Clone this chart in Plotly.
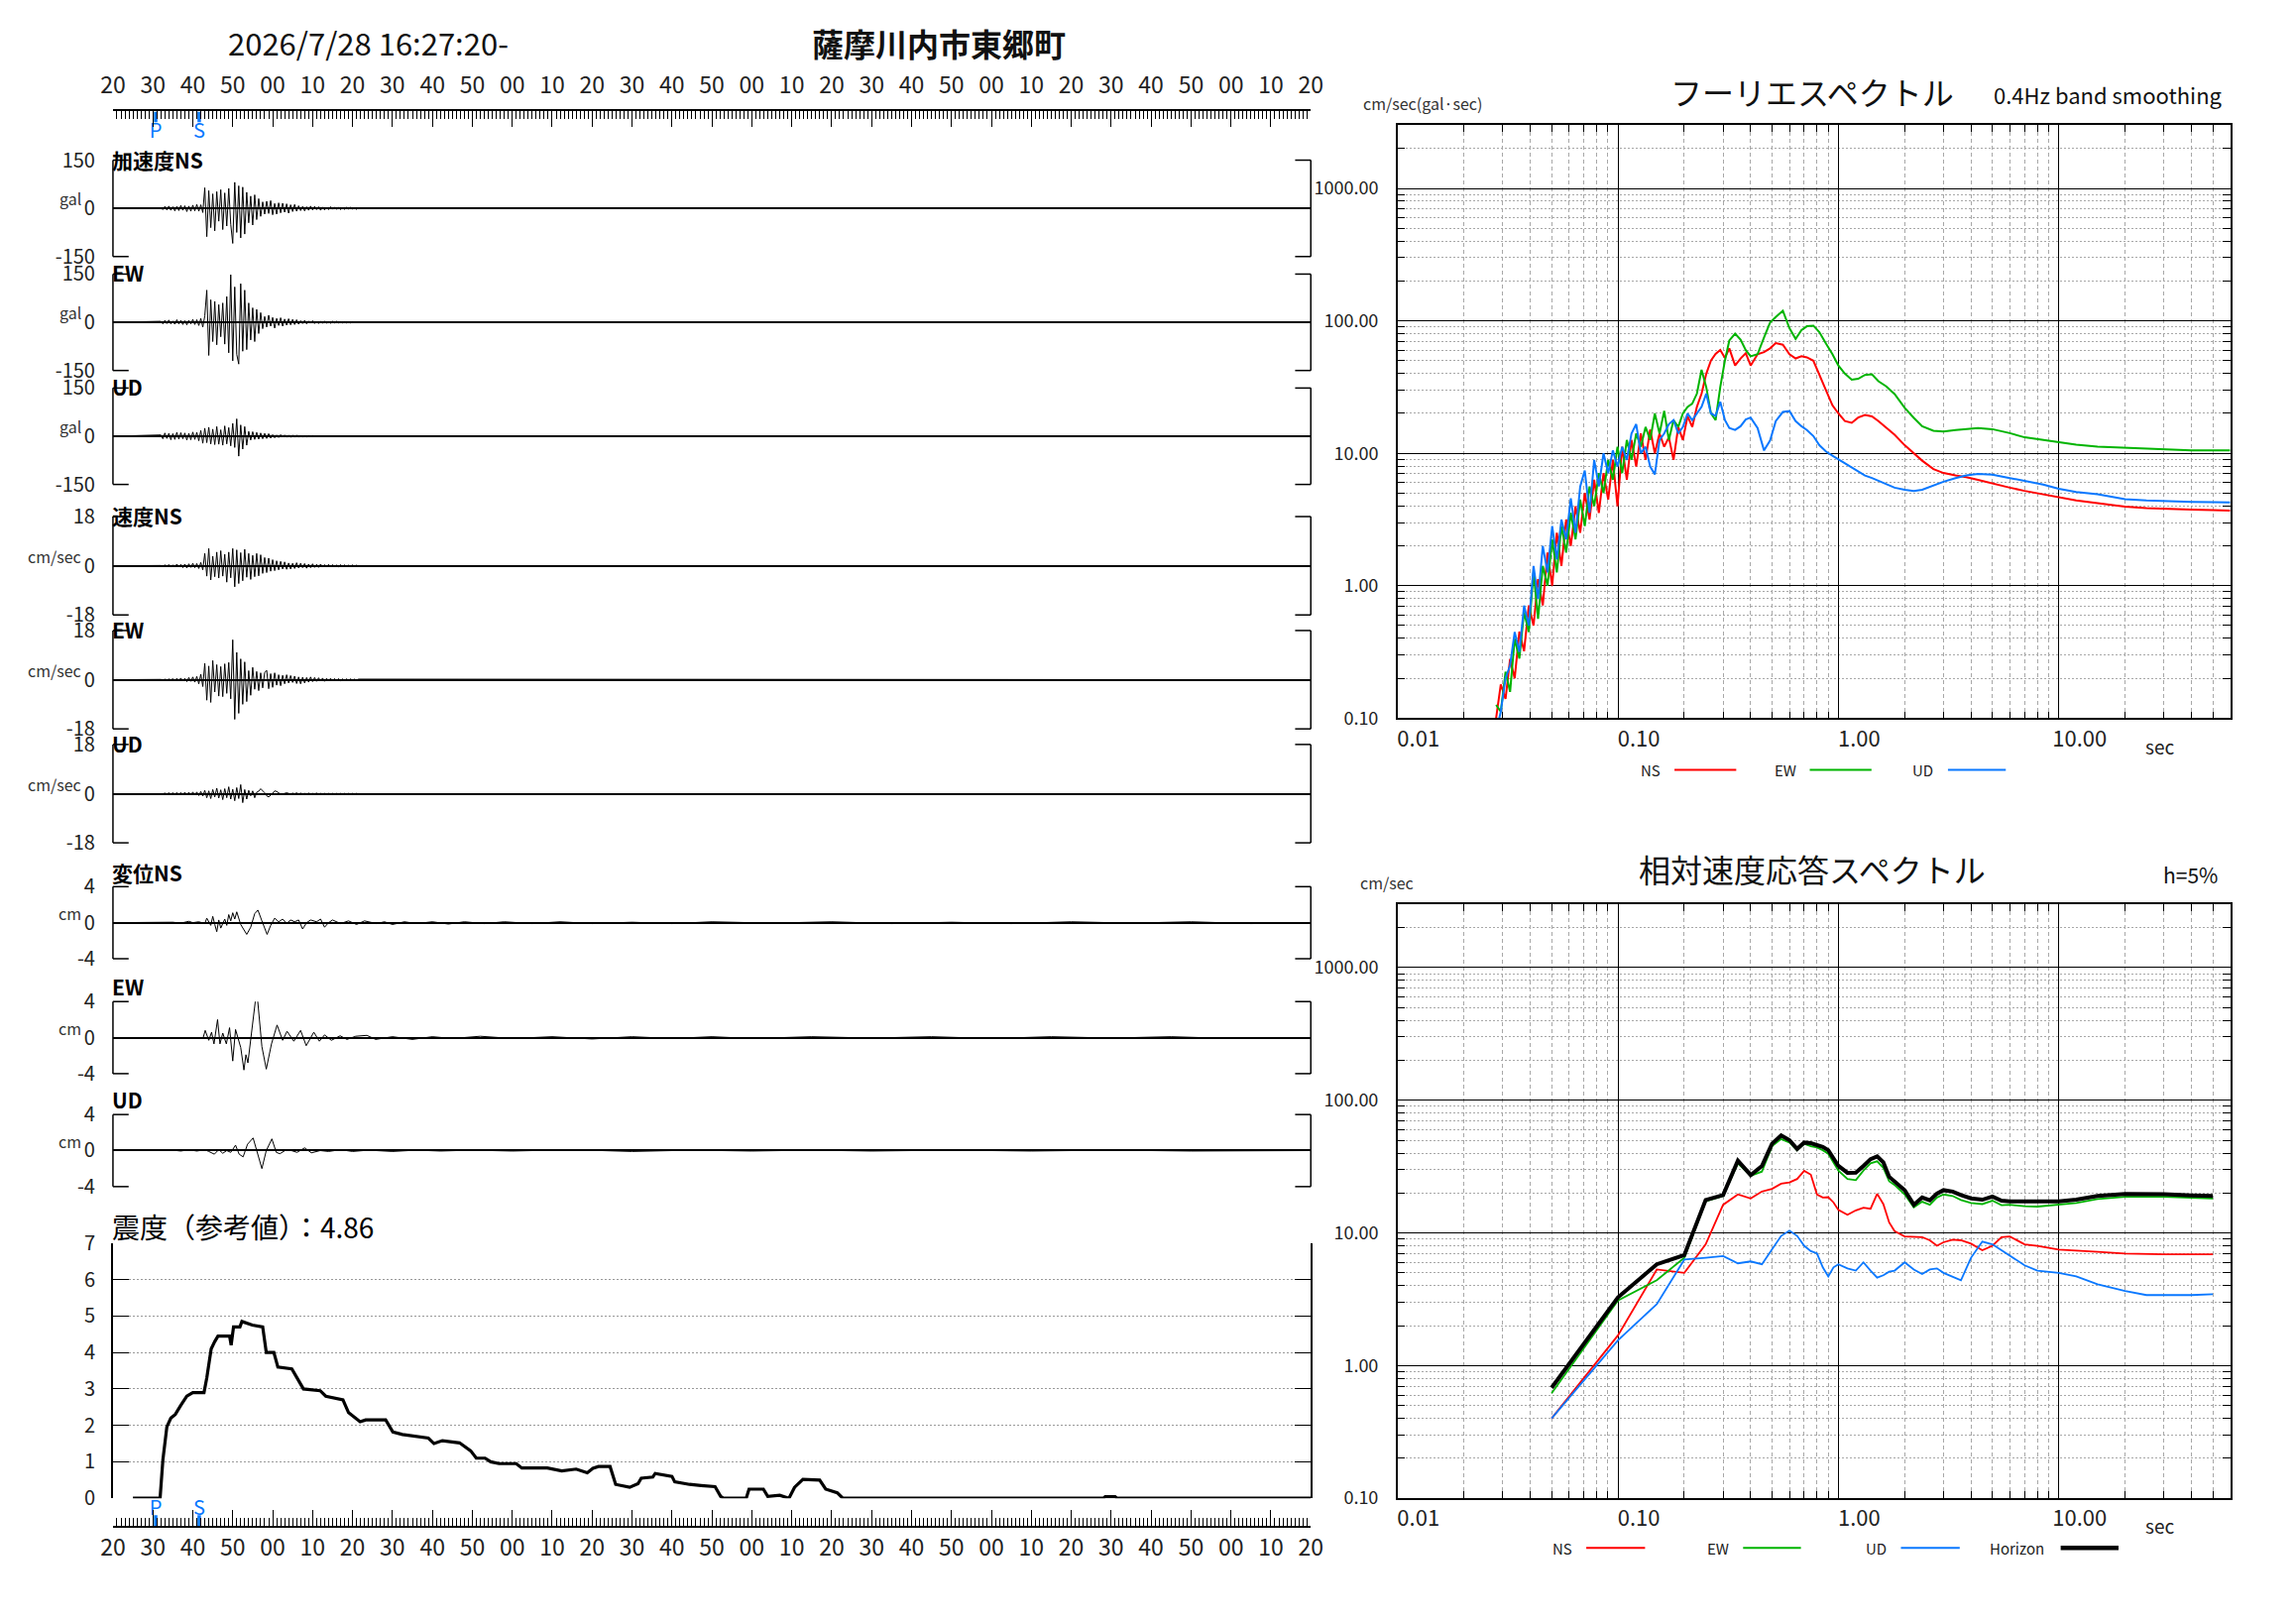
import math
import plotly.graph_objects as go

W, H = 2316, 1637
FONT = "Noto Sans CJK JP, Noto Sans, DejaVu Sans, sans-serif"

# ---------------- data ----------------
title_time = "2026/7/28 16:27:20-"
station = "薩摩川内市東郷町"
time_labels = ["20", "30", "40", "50", "00", "10", "20", "30", "40", "50", "00", "10",
               "20", "30", "40", "50", "00", "10", "20", "30", "40", "50", "00", "10",
               "20", "30", "40", "50", "00", "10", "20"]
phase_names = ["P", "S"]
phase_times = [10.7, 21.6]

WAVE_T0 = 12.0
WAVE_DT = 0.5
acc_ns = [2, -4, 6, -5, 7, -6, 5, -8, 6, -7, 9, -6, 8, -10, 7, -9, 10, -8, 12, -9, 11, -13,
          64, -88, 55,
          -60, 45, -70, 52, -40, 58, -66, 48, -55, 62, -50,
          -109, 81, -75, 70, -92, 66, -80,
          50, -45, 38, -52, 42, -35, 30,
          -25, 20, -18, 22, -16, 24, -20, 15, -18, 17, -14, 16, -12, 14, -15, 11, -10, 12, -9,
          8, -7, 6, -8, 5, -6, 7, -5, 6, -4, 5, -6, 4, -5, 3, -4, 5, -3, 4, -3, 3, -4, 2, -3, 3, -2,
          3, -2, 2, -3, 2]
acc_ew = [3, -5, 6, -4, 7, -5, 4, -6, 8, -5, 6, -7, 5, -8, 6, -5, 9, -7, 8, -10,
          12, -15, 20,
          100, -103, 70,
          -60, 65, -70, 55, -45, 60, -68,
          80, -95, 148, -120, 110, -100, -130, 120, -90, 100, -85,
          60, -55, 45, -60, 40, -35, 30,
          -20, 18, -15, 22, -12, 15, -18, 12, -10, 14, -12, 10, -9, 11, -8, 9, -7, 8,
          -6, 5, -4, 6, -5, 4, -3, 5, -4, 3, -4, 3, -3, 4, -3, 2, -3, 3, -2, 3, -2, 2, -2, 2, -2,
          1, -2, 2, -1, 1, -1]
acc_ud = [4, -8, 10, -7, 9, -11, 8, -10, 12, -9, 11, -8, 10, -12, 9, -11, 13, -10, 12, -14,
          18, -22, 25, -20, 28, -24, 22, -26, 30, -25, 20, -28, 32, -24, 27, -30, 40, -35, 54, -62,
          35, -40, 30, -28,
          15, -12, 14, -10, 12, -9, 10, -8, 9, -7, 8, -6,
          5, -5, 4, -4, 5, -3, 4, -3, 3, -3, 3, -2, 3, -2, 2, -2, 2, -2, 2, -1, 2, -1, 1, -1, 1, -1,
          1, -1, 1, -1, 1, -1, 1, -1, 1, -1, 1, -1, 1, -1, 1, -1, 1, -1]
vel_ns = [0.1, -0.2, 0.3, -0.2, 0.4, -0.3, 0.3, -0.5, 0.6, -0.4, 0.5, -0.7, 0.6, -0.8, 0.7, -0.6,
          0.9, -0.7, 0.8, -1.0, 1.2, -1.5,
          4.5, -3.8, 6.3, -5.2, 3.5, -4.0, 5.0,
          -4.5, 5.5, -3.8, 4.2, -6.0, 5.0, -4.4, 6.3, -7.7, 5.8, -6.5, 4.8, -5.5, 6.0, -4.2, 4.5,
          -5.0, 3.8, -4.0, 4.5,
          -3.7, 4.0, -2.8, 3.0, -2.5, 2.8, -2.0, 2.2, -1.8,
          1.8, -1.5, 1.6, -1.2, 1.4, -1.3, 1.0, -1.2, 0.9, -1.0, 1.1, -0.8, 0.9, -0.7, 0.8, -0.9,
          0.6, -0.7, 0.7, -0.6, 0.5, -0.6, 0.6, -0.5, 0.4, -0.5,
          0.5, -0.4, 0.4, -0.5, 0.3, -0.4, 0.4, -0.3, 0.3, -0.3, 0.2, -0.3, 0.3, -0.2, 0.2, -0.2]
vel_ew = [0.1, -0.2, 0.2, -0.3, 0.3, -0.2, 0.4, -0.4, 0.5, -0.3, 0.6, -0.5, 0.5, -0.7, 0.8, -0.6,
          1.0, -0.9, 1.2, -1.5, 2.0, -2.5,
          6.0, -7.5, 5.0, -8.3, 7.0, -4.5, 5.5, -6.0, 4.8,
          -6.2, 5.8, -5.0, 6.3, -7.0,
          14.6, -14.5, 10.0, -12.3, 7.6, -9.0, 6.5, -8.0,
          3.3, -5.7, 4.5, -3.5, 3.0, -4.0, 2.5, -3.0, 2.6,
          3.4, -3.3, 2.2, -2.8, 2.5, -2.0, 1.8, -2.2, 1.6,
          -1.5, 1.8, -1.2, 1.5, -1.0, 1.3, -1.4, 1.0, -1.5, 0.9, -1.2, 0.8, -0.9, 1.0,
          -0.7, 0.8, -0.6, 0.7, -0.5, 0.6, -0.6, 0.5, -0.4, 0.5, -0.5, 0.4, -0.3, 0.4, -0.4, 0.3,
          -0.3, 0.3, -0.2, 0.3, -0.2, 0.2, -0.2, 0.2]
vel_ud = [0.1, -0.1, 0.2, -0.2, 0.3, -0.2, 0.3, -0.3, 0.4, -0.3, 0.4, -0.4, 0.5, -0.4, 0.5, -0.5,
          0.6, -0.5, 0.6, -0.7, 0.8, -0.9,
          1.2, -1.5, 1.0, -1.8, 1.5, -1.2, 2.0, -1.6, 1.4, -2.2, 1.8, -1.5, 2.5, -2.0, 1.6, -2.6,
          2.2, -1.8,
          3.3, -3.3, 1.5, -2.0, 1.2, -0.8, 1.0, -1.5, 0.5, 0.9, 1.8, 1.2,
          0.3, -0.8, -1.2, -0.6, 0.2, 1.0, 0.8, 0.3, -0.2, -0.1, 0.2, 0.3,
          0.1, -0.2, 0.2, -0.1, 0.3, -0.2, 0.2, -0.2, 0.1, -0.2, 0.2, -0.1, 0.1, -0.1, 0.2, -0.1,
          0.1, -0.1, 0.1, -0.1, 0.1, -0.1, 0.1, -0.1, 0.1, -0.1, 0.1, -0.1, 0.1, -0.1, 0.1, -0.1,
          0.1, -0.1, 0.1, -0.1]

disp_ns_t = [0, 12, 15, 17, 19, 20, 21.5, 23, 23.5, 24.5, 25, 25.5, 26, 26.5, 27, 28, 28.5, 29,
             29.5, 30, 30.5, 31, 32, 33.5, 34.5, 35.5, 36.3, 37.3, 38.6, 39.5, 40.5, 41.5, 42.5,
             43.5, 44.5, 45.5, 46.5, 47.5, 48.5, 49.5, 51, 52, 53, 54, 55, 57, 59, 61, 63, 66, 68,
             70, 73, 76, 80, 84, 88, 93, 98, 105, 112, 120, 130, 140, 150, 165, 180, 195, 210,
             225, 240, 255, 270, 285, 300]
disp_ns_v = [0, 0, 0.05, -0.05, 0.15, 0.0, 0.1, -0.1, 0.5, -0.3, 0.7, -0.2, -1.0, 0.3, -0.6, 0.4,
             -0.3, 0.9, 0.2, 1.1, 0.4, 1.2, -0.2, -1.3, -0.5, 1.0, 1.4, 0.2, -1.3, -0.3, 0.5, 0.1,
             0.4, -0.1, 0.3, 0.1, 0.3, -0.7, 0.0, 0.3, 0.1, 0.4, -0.5, 0.0, 0.3, -0.1, 0.2, -0.2,
             0.2, -0.1, 0.1, -0.2, 0.1, -0.1, 0.1, -0.15, 0.1, -0.1, 0.1, -0.1, 0.1, -0.1, 0.05,
             -0.1, 0.1, -0.05, 0.1, -0.1, 0.05, -0.1, 0.1, -0.05, 0.1, -0.1, 0.0]
disp_ew_t = [0, 22.6, 23.1, 24.0, 24.7, 25.3, 26.2, 26.8, 27.5, 28.4, 29.2, 30.0, 30.7, 32.0, 32.8,
             33.3, 33.8, 34.8, 36.0, 37.3, 38.4, 39.7, 41.1, 42.5, 43.6, 45.3, 47.0, 48.4, 50.3,
             51.7, 53.0, 54.7, 56.9, 58.6, 60.8, 63.6, 65.8, 70, 75, 80, 85, 92, 100, 110, 120,
             130, 140, 150, 160, 175, 190, 205, 220, 235, 250, 265, 280, 300]
disp_ew_v = [0, 0, 0.8, -0.3, 0.6, -0.7, 2.0, -0.7, 0.5, -0.7, 1.1, -2.6, 0.9, -1.1, -3.6, -1.9,
             -2.8, 1.2, 5.3, -1.0, -3.5, -0.7, 1.4, -0.3, 0.7, -0.4, 0.8, -0.9, 0.6, -0.4, 0.3,
             -0.3, 0.2, -0.2, 0.15, 0.25, -0.2, 0.1, -0.2, 0.1, -0.1, 0.15, -0.1, 0.1, -0.15, 0.1,
             -0.1, 0.1, -0.1, 0.1, -0.05, 0.1, -0.1, 0.1, -0.05, 0.1, -0.1, 0]
disp_ud_t = [0, 15, 17, 19, 21, 23, 24, 25.4, 26.5, 27.5, 28.5, 29.5, 30.7, 31.6, 32.6, 33.7, 35.1,
             36.2, 37.3, 38.4, 39.8, 40.9, 41.8, 43.1, 44.7, 46.1, 48.0, 49.7, 51.9, 54, 57, 60,
             64, 70, 76, 82, 90, 100, 115, 130, 145, 160, 175, 190, 210, 230, 250, 270, 300]
disp_ud_v = [0, 0.05, -0.05, 0.1, -0.05, 0.1, -0.1, -0.4, 0.1, -0.3, 0.0, -0.2, 0.6, -0.4, -0.7,
             0.7, 1.4, -0.2, -2.0, 0.0, 1.3, -0.2, -0.35, 0.0, 0.0, -0.2, 0.3, -0.25, 0.0, -0.1,
             0.1, -0.1, 0.05, -0.1, 0.05, -0.05, 0.05, -0.05, 0.1, -0.1, 0.05, -0.05, 0.05, -0.05,
             0.05, -0.05, 0.05, -0.05, 0]

intensity_label = "震度（参考値）：4.86"
int_t = [5, 11.8, 12.5, 13.5, 14.5, 15.6, 17, 18.5, 20, 22.8, 23.5, 24.6, 25.5, 26.3, 29.2, 29.6,
         30.2, 31.8, 32.3, 34.9, 37.5, 38.4, 40.3, 41.3, 44.8, 47.7, 51.9, 53.3, 57.6, 59.0, 61.9,
         63.3, 68.3, 70.1, 72.5, 79.0, 80.4, 82.5, 86.8, 89.6, 91.0, 93.2, 94.6, 96.7, 101.0,
         102.4, 108.8, 112.4, 116.0, 118.8, 120.2, 121.6, 124.5, 125.9, 129.4, 131.5, 132.3,
         135.2, 135.8, 140.0, 140.7, 144.4, 147.3, 150.8, 152.2, 152.9, 158.6, 159.3, 162.9,
         164.0, 167.0, 169.3, 170.7, 172.8, 177.0, 178.5, 181.4, 182.8, 248, 248.5, 251, 251.5, 300]
int_v = [0, 0, 1.05, 1.96, 2.2, 2.3, 2.55, 2.8, 2.9, 2.9, 3.3, 4.1, 4.3, 4.45, 4.45, 4.2, 4.7, 4.7,
         4.85, 4.75, 4.7, 4.0, 4.0, 3.6, 3.55, 3.0, 2.95, 2.8, 2.7, 2.35, 2.1, 2.15, 2.15, 1.82,
         1.75, 1.65, 1.5, 1.58, 1.52, 1.3, 1.1, 1.1, 1.0, 0.95, 0.95, 0.83, 0.83, 0.75, 0.8, 0.7,
         0.82, 0.87, 0.87, 0.38, 0.3, 0.4, 0.55, 0.58, 0.68, 0.6, 0.45, 0.38, 0.35, 0.32, 0.05,
         0.0, 0.0, 0.25, 0.25, 0.05, 0.08, 0.0, 0.3, 0.52, 0.5, 0.25, 0.15, 0.0, 0.0, 0.04, 0.04,
         0.0, 0.0]

# Fourier spectrum (period in s, amplitude cm/sec)
fs_period = [0.028, 0.0294, 0.0309, 0.0324, 0.034, 0.0357, 0.0375, 0.0394, 0.0414, 0.0434,
             0.0456, 0.0479, 0.0503, 0.0528, 0.0554, 0.0582, 0.0611, 0.0642, 0.0674, 0.0707,
             0.0743, 0.078, 0.0819, 0.086, 0.0903, 0.0948, 0.0995, 0.1045, 0.1097, 0.1152,
             0.121, 0.127, 0.1334, 0.14, 0.147, 0.1544, 0.1621, 0.1702, 0.1787, 0.1877,
             0.1971, 0.2069, 0.2173, 0.2281, 0.2395, 0.2515, 0.2641, 0.2773, 0.2912, 0.3057,
             0.32, 0.34, 0.36, 0.38, 0.40, 0.43, 0.46, 0.49, 0.52, 0.56,
             0.60, 0.64, 0.68, 0.72, 0.77, 0.82, 0.88, 0.94, 1.0, 1.07,
             1.15, 1.23, 1.32, 1.42, 1.52, 1.65, 1.8, 2.0, 2.2, 2.4,
             2.7, 3.0, 3.4, 3.8, 4.3, 5.0, 6.0, 7.0, 8.5, 10,
             12, 15, 20, 25, 30, 40, 50, 60]
fs_ns = [0.10, 0.18, 0.14, 0.28, 0.20, 0.45, 0.32, 0.71, 0.50, 1.12, 0.71, 1.78, 1.0, 2.51, 1.41,
         3.16, 2.0, 3.98, 2.51, 5.01, 3.16, 6.31, 3.55, 7.08, 4.47, 8.91, 3.98, 11.2, 6.31, 12.6,
         7.94, 14.1, 8.91, 15.1, 10.0, 14.1, 11.2, 13.2, 8.91, 15.8, 12.6, 19.1, 15.8, 22.4, 28.2,
         39.8, 50.1, 56.2, 60.3, 52.5,
         62, 46, 52, 57, 46, 56, 58, 62, 68, 66, 56, 52, 54, 53, 50, 39, 29, 23, 20, 17.5,
         17, 18.6, 19.5, 19, 17.5, 15.5, 13.8, 11.5, 10.0, 8.8, 7.6, 7.1, 6.8, 6.6, 6.3, 5.9, 5.5,
         5.2, 4.9, 4.68, 4.4, 4.2, 3.95, 3.85, 3.8, 3.75, 3.72, 3.7]
fs_ew = [0.126, 0.112, 0.224, 0.158, 0.398, 0.282, 0.631, 0.447, 1.26, 0.562, 1.41, 1.0, 2.24,
         1.26, 2.82, 1.78, 3.55, 2.24, 4.47, 2.82, 5.62, 3.98, 7.08, 5.01, 8.91, 6.31, 11.2, 7.08,
         12.6, 8.91, 14.1, 11.2, 15.8, 12.6, 20.0, 14.1, 20.9, 12.6, 17.8, 15.8, 20.0, 22.4, 23.7,
         28.2, 42.7, 31.6, 20.0, 17.8, 31.6, 50.1,
         71, 80, 72, 60, 54, 56, 75, 97, 107, 119, 88, 73, 85, 91, 92, 82, 67, 56, 46, 40,
         36, 36.5, 39, 39.5, 35, 32, 28, 22, 18.5, 16, 14.8, 14.6, 15, 15.3, 15.5, 15.2, 14.2,
         13.2, 12.6, 12.1, 11.6, 11.2, 11.0, 10.8, 10.6, 10.5, 10.5, 10.5]
fs_ud = [0.079, 0.112, 0.2, 0.251, 0.447, 0.316, 0.708, 0.501, 1.41, 0.794, 2.0, 1.26, 2.82,
         1.58, 3.16, 2.24, 4.57, 2.51, 5.62, 7.41, 3.55, 8.91, 5.62, 10.0, 7.08, 10.5, 7.94, 11.2,
         8.91, 14.1, 16.6, 10.0, 11.2, 7.94, 6.92, 12.6, 14.1, 16.6, 17.8, 14.1, 15.8, 20.0, 17.8,
         20.0, 22.4, 28.2, 20.0, 19.1, 24.5, 17.8,
         15.5, 15.0, 16.0, 18.0, 18.6, 15.5, 10.5, 12.5, 17.5, 20.5, 20.8, 17.5, 16.0, 15.0, 13.5,
         11.5, 10.3, 9.6, 9.0, 8.5, 7.8, 7.3, 6.8, 6.5, 6.2, 5.8, 5.5, 5.3, 5.2, 5.3, 5.7, 6.1,
         6.5, 6.8, 7.0, 6.9, 6.5, 6.2, 5.8, 5.4, 5.1, 4.9, 4.5, 4.4, 4.35, 4.3, 4.27, 4.25]

# relative velocity response spectrum (h=5%)
rs_period = [0.05, 0.1, 0.15, 0.2, 0.25, 0.3, 0.35, 0.4, 0.45, 0.5, 0.55, 0.6, 0.65, 0.7, 0.75,
             0.8, 0.85, 0.9, 0.95, 1.0, 1.1, 1.2, 1.3, 1.4, 1.5, 1.6, 1.7, 1.8, 2.0, 2.2, 2.4, 2.6,
             2.8, 3.0, 3.3, 3.6, 4.0, 4.5, 5.0, 5.5, 6.0, 7.0, 8.0, 10, 12, 15, 20, 25, 30, 40, 50]
rs_ns = [0.40, 1.69, 5.3, 5.0, 8.2, 16.3, 19.5, 18.2, 20.5, 21.5, 23.5, 24.0, 25.5, 29.4, 27.5,
         19.5, 18.5, 18.6, 17.0, 14.9, 13.7, 14.8, 15.5, 15.2, 19.7, 16.5, 12.0, 10.3, 9.4, 9.3,
         9.3, 8.8, 8.0, 8.5, 8.9, 8.8, 8.3, 7.4, 8.0, 9.3, 9.4, 8.2, 8.0, 7.5, 7.4, 7.2, 7.0, 6.9,
         6.9, 6.9, 6.9]
rs_ew = [0.62, 3.1, 4.4, 6.5, 17.3, 19.0, 33.5, 27, 29, 45, 51, 48, 42, 47, 45, 44, 42, 39.5, 34,
         29.5, 25.5, 25, 29.5, 33.5, 34.7, 31, 24.5, 23, 19.5, 15.6, 17.2, 16.3, 18.5, 19.5, 19.0,
         17.7, 16.8, 16.5, 17.5, 16.2, 16.3, 15.9, 15.8, 16.3, 16.8, 18.0, 18.7, 18.7, 18.7, 18.4,
         18.2]
rs_ud = [0.40, 1.55, 2.9, 6.3, 6.5, 6.7, 5.9, 6.1, 5.8, 7.6, 9.5, 10.4, 9.5, 8.0, 7.3, 7.0, 5.5,
         4.7, 5.5, 5.8, 5.4, 5.2, 6.0, 5.2, 4.6, 4.8, 5.1, 5.2, 6.0, 5.3, 4.9, 5.3, 5.4, 5.0, 4.7,
         4.4, 6.5, 8.6, 8.2, 7.4, 6.7, 5.7, 5.2, 5.0, 4.7, 4.1, 3.65, 3.4, 3.4, 3.4, 3.45]
rs_hz = [0.68, 3.27, 5.8, 6.8, 17.7, 19.3, 35, 27.3, 32, 47, 54.3, 50, 43, 48, 47.5, 46, 44.5, 42,
         37, 32, 28.4, 28.5, 32, 36, 37.8, 34, 26.5, 24.5, 21, 16.3, 18.5, 17.6, 19.8, 21.0, 20.5,
         19.3, 18.2, 17.8, 18.8, 17.5, 17.3, 17.3, 17.2, 17.3, 17.8, 19.0, 19.7, 19.7, 19.6, 19.2,
         19.0]

component_names = ["NS", "EW", "UD", "Horizon"]
component_colors = ["#ff0000", "#00b400", "#0a78ff", "#000000"]
log_major_x = [0.01, 0.1, 1, 10]
log_major_x_text = ["0.01", "0.10", "1.00", "10.00"]
log_major_y = [0.1, 1, 10, 100, 1000]
log_major_y_text = ["0.10", "1.00", "10.00", "100.00", "1000.00"]

# ---------------- layout helpers ----------------
def xd(a, b):
    return [a / W, b / W]


def yd(top, bot):
    return [1 - bot / H, 1 - top / H]


def nm(k):
    return "" if k == 1 else str(k)


fig = go.Figure()
layout = dict(width=W, height=H, margin=dict(l=0, r=0, t=0, b=0), paper_bgcolor="white",
              plot_bgcolor="rgba(0,0,0,0)", showlegend=False,
              font=dict(family=FONT, color="#222"))
shapes = []
annotations = []


def ann(text, x, y, size, xanchor="center", color="#111", weight="normal"):
    annotations.append(dict(text=text, x=x / W, y=1 - y / H, xref="paper", yref="paper",
                            showarrow=False, xanchor=xanchor, yanchor="middle",
                            font=dict(size=size, color=color, family=FONT, weight=weight)))


LEFT, RIGHT = 94, 1316
STUB = 16 / (RIGHT - LEFT)
GRID_DOT = "2px,2px"

panels = [
    # (name, unit, amp, top, bottom, values, times)
    ("加速度NS", "gal", 150, 140, 239, acc_ns, None),
    ("EW", "gal", 150, 257, 356, acc_ew, None),
    ("UD", "gal", 150, 374, 473, acc_ud, None),
    ("速度NS", "cm/sec", 18, 506, 607, vel_ns, None),
    ("EW", "cm/sec", 18, 623, 724, vel_ew, None),
    ("UD", "cm/sec", 18, 740, 841, vel_ud, None),
    ("変位NS", "cm", 4, 886, 960, disp_ns_v, disp_ns_t),
    ("EW", "cm", 4, 1004, 1078, disp_ew_v, disp_ew_t),
    ("UD", "cm", 4, 1120, 1194, disp_ud_v, disp_ud_t),
]

for i, (label, unit, amp, top, bot, vals, tvals) in enumerate(panels):
    k = i + 1
    if tvals is None:
        xs = [0] + [WAVE_T0 + j * WAVE_DT for j in range(len(vals))] + [300]
        ys = [0] + list(vals) + [0]
    else:
        xs, ys = tvals, vals
    fig.add_trace(go.Scatter(x=xs, y=ys, mode="lines", xaxis="x" + nm(k), yaxis="y" + nm(k),
                             line=dict(color="black", width=1), cliponaxis=False,
                             hoverinfo="skip"))
    layout["xaxis" + nm(k)] = dict(domain=xd(LEFT, RIGHT), range=[0, 300], visible=False,
                                   anchor="y" + nm(k))
    layout["yaxis" + nm(k)] = dict(domain=yd(top, bot), range=[-amp, amp], anchor="x" + nm(k),
                                   tickmode="array", tickvals=[amp, 0, -amp],
                                   ticktext=[str(amp), "0", str(-amp)],
                                   showgrid=True, gridcolor="#9a9a9a", griddash=GRID_DOT,
                                   gridwidth=1, zeroline=True, zerolinecolor="black",
                                   zerolinewidth=2, showline=False, ticks="outside", ticklen=13,
                                   tickcolor="rgba(0,0,0,0)",
                                   tickfont=dict(size=20, color="#222", family=FONT))
    xr, yr = "x" + nm(k) + " domain", "y" + nm(k) + " domain"
    segs = [(0, 0, 0, 1), (0, 1, STUB, 1), (0, 0, STUB, 0),
            (1, 0, 1, 1), (1 - STUB, 1, 1, 1), (1 - STUB, 0, 1, 0)]
    for (x0, y0, x1, y1) in segs:
        shapes.append(dict(type="line", xref=xr, yref=yr, x0=x0, y0=y0, x1=x1, y1=y1,
                           line=dict(color="black", width=1.5)))
    zero_px = (top + bot) / 2
    if unit == "cm":
        ann(label, LEFT - 3, top - 15, 21, xanchor="left", color="#000", weight="bold")
    else:
        ann(label, LEFT - 3, top - 1, 21, xanchor="left", color="#000", weight="bold")
    ann(unit, 64, zero_px - 10, 16, xanchor="right", color="#333")

# intensity panel
fig.add_trace(go.Scatter(x=int_t, y=int_v, mode="lines", xaxis="x10", yaxis="y10",
                         line=dict(color="black", width=3.2), hoverinfo="skip",
                         cliponaxis=False))
layout["xaxis10"] = dict(domain=xd(LEFT, RIGHT), range=[0, 300], visible=False, anchor="y10")
layout["yaxis10"] = dict(domain=yd(1252, 1514), range=[0, 7], anchor="x10", tickmode="linear",
                         tick0=0, dtick=1, showgrid=True, gridcolor="#9a9a9a", griddash=GRID_DOT,
                         zeroline=False, showline=True, mirror="allticks", linecolor="black",
                         linewidth=1.5, ticks="inside", ticklen=16, tickcolor="black",
                         ticklabelstandoff=12, tickfont=dict(size=20, color="#222", family=FONT))
ann(intensity_label, LEFT - 3, 1235, 28, xanchor="left", color="#000")

# time rulers
for k, top, bot, side, line_y, text_y, standoff in [
        (11, 90, 120, "top", (1.0, 0.63), 0.27, 7),
        (12, 1512.5, 1542.5, "bottom", (0.0, 0.37), 0.55, 0)]:
    layout["yaxis" + nm(k)] = dict(domain=yd(top, bot), range=[0, 1], visible=False,
                                   anchor="x" + nm(k))
    layout["xaxis" + nm(k)] = dict(domain=xd(LEFT, RIGHT), range=[0, 300], anchor="y" + nm(k),
                                   side=side, showline=True, linecolor="black", linewidth=1.5,
                                   tickmode="array",
                                   tickvals=[10 * j for j in range(len(time_labels))],
                                   ticktext=time_labels,
                                   ticks="inside", ticklen=16, tickcolor="black", tickwidth=1,
                                   showgrid=False, zeroline=False,
                                   ticklabelstandoff=standoff,
                                   tickfont=dict(size=23, color="#222", family=FONT),
                                   minor=dict(ticks="inside", ticklen=8, tickmode="linear",
                                              tick0=0, dtick=1, tickcolor="black", tickwidth=1,
                                              showgrid=False))
    for pn, pt in zip(phase_names, phase_times):
        fig.add_trace(go.Scatter(x=[pt, pt], y=list(line_y), mode="lines", xaxis="x" + nm(k),
                                 yaxis="y" + nm(k), line=dict(color="#0a78ff", width=3.5),
                                 hoverinfo="skip"))
        fig.add_trace(go.Scatter(x=[pt], y=[text_y], mode="text", text=[pn],
                                 xaxis="x" + nm(k), yaxis="y" + nm(k), cliponaxis=False,
                                 textfont=dict(color="#0a78ff", size=20, family=FONT),
                                 hoverinfo="skip"))

# titles
ann(title_time, 354, 19, 31, color="#111")
ann(station, 937, 19, 32, color="#111", weight="bold")

# log-log spectra
X_MIN_LOG, X_MAX_LOG = -2, math.log10(60)
Y_MIN_LOG, Y_MAX_LOG = -1, 3.478
minor_x = [m * 10 ** e for e in range(-2, 2) for m in range(2, 10) if m * 10 ** e < 60]
minor_y = [m * 10 ** e for e in range(-1, 4) for m in range(2, 10) if m * 10 ** e < 3000]
SX0, SX1 = 1404.5, 2254


def log_axes(k, top, bot):
    layout["xaxis" + nm(k)] = dict(
        domain=xd(SX0, SX1), anchor="y" + nm(k), type="log",
        range=[X_MIN_LOG, X_MAX_LOG], showline=True, mirror="allticks", linecolor="black",
        linewidth=1.5, tickmode="array", tickvals=log_major_x, ticktext=log_major_x_text,
        ticks="", showgrid=True, gridcolor="black", gridwidth=1, zeroline=False,
        ticklabelshift=21, ticklabelstandoff=0,
        tickfont=dict(size=22, color="#222", family=FONT),
        minor=dict(tickmode="array", tickvals=minor_x, showgrid=True, gridcolor="#a8a8a8",
                   griddash="4px,3px", gridwidth=1, ticks="inside", ticklen=7,
                   tickcolor="black", tickwidth=1))
    layout["yaxis" + nm(k)] = dict(
        domain=yd(top, bot), anchor="x" + nm(k), type="log", range=[Y_MIN_LOG, Y_MAX_LOG],
        showline=True, mirror="allticks", linecolor="black", linewidth=1.5, tickmode="array",
        tickvals=log_major_y, ticktext=log_major_y_text, ticks="", showgrid=True,
        gridcolor="black", gridwidth=1, zeroline=False, ticklabelstandoff=14,
        tickfont=dict(size=18, color="#222", family=FONT),
        minor=dict(tickmode="array", tickvals=minor_y, showgrid=True, gridcolor="#a8a8a8",
                   griddash=GRID_DOT, gridwidth=1, ticks="inside", ticklen=8,
                   tickcolor="black", tickwidth=1))


log_axes(13, 104, 713)
log_axes(14, 904, 1514)

for vals, col in zip([fs_ns, fs_ew, fs_ud], component_colors[:3]):
    fig.add_trace(go.Scatter(x=fs_period, y=vals, mode="lines", xaxis="x13", yaxis="y13",
                             line=dict(color=col, width=2), hoverinfo="skip"))
for vals, col, wd in zip([rs_ns, rs_ew, rs_ud, rs_hz], component_colors, [1.8, 1.8, 1.8, 4]):
    fig.add_trace(go.Scatter(x=rs_period, y=vals, mode="lines", xaxis="x14", yaxis="y14",
                             line=dict(color=col, width=wd), hoverinfo="skip"))

ann("フーリエスペクトル", 1828, 69, 32, color="#111")
ann("0.4Hz band smoothing", 2129, 72, 22, color="#111")
ann("cm/sec(gal·sec)", 1367, 81, 16, xanchor="left", color="#333")
ann("sec", 2182, 742, 19, color="#222")
ann("相対速度応答スペクトル", 1828, 867, 32, color="#111")
ann("h=5%", 2213, 873, 21, color="#111")
ann("cm/sec", 1394, 882, 16, color="#333")
ann("sec", 2182, 1542, 19, color="#222")

# legends (text then line swatch)
for name, col, tx, lx0, lx1 in zip(component_names[:3], component_colors[:3],
                                   [1663, 1800, 1940], [1687, 1825, 1966], [1750, 1888, 2025]):
    ann(name, tx, 766, 15, color="#222")
    shapes.append(dict(type="line", xref="paper", yref="paper", x0=lx0 / W, x1=lx1 / W,
                       y0=1 - 766 / H, y1=1 - 766 / H, line=dict(color=col, width=2)))
for name, col, tx, lx0, lx1, wd in zip(component_names, component_colors,
                                       [1573, 1731, 1893, 2036], [1597, 1757, 1918, 2081],
                                       [1657, 1816, 1978, 2140], [2, 2, 2, 4.5]):
    ann(name, tx, 1565, 15, color="#222")
    shapes.append(dict(type="line", xref="paper", yref="paper", x0=lx0 / W, x1=lx1 / W,
                       y0=1 - 1565 / H, y1=1 - 1565 / H, line=dict(color=col, width=wd)))

layout["shapes"] = shapes
layout["annotations"] = annotations
fig.update_layout(**layout)
fig.write_html("out.html")
